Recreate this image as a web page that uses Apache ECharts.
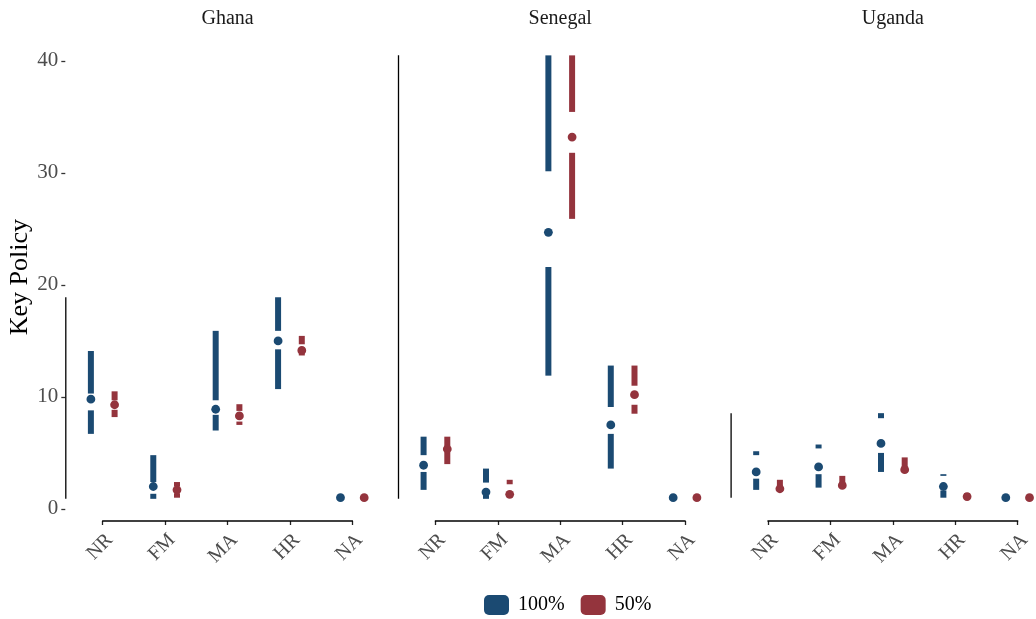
<!DOCTYPE html>
<html><head><meta charset="utf-8">
<script src="https://cdn.jsdelivr.net/npm/echarts@6/dist/echarts.min.js"></script>
<style>html,body{margin:0;padding:0;background:#fff}#c{width:1036px;height:619px}</style>
</head><body><div id="c"></div>
<script>
const countries = ['Ghana', 'Senegal', 'Uganda'];
const categories = ['NR', 'FM', 'MA', 'HR', 'NA'];
const groups = ['100%', '50%'];
const yTicks = [0, 10, 20, 30, 40];
// per category: [min, q1, median, q3, max]
const ghana100 = [[6.7, 8.8, 9.8, 10.3, 14.1], [0.9, 1.35, 2.0, 2.4, 4.8], [7.0, 8.4, 8.9, 9.7, 15.9], [10.7, 14.25, 15.0, 15.9, 18.9], [1, 1, 1, 1, 1]];
const ghana50 = [[8.2, 8.85, 9.3, 9.7, 10.5], [1.0, 1.4, 1.7, 2.0, 2.4], [7.5, 7.8, 8.3, 8.75, 9.35], [13.7, 14.0, 14.15, 14.7, 15.45], [1, 1, 1, 1, 1]];
const senegal100 = [[1.7, 3.3, 3.9, 4.8, 6.45], [0.9, 1.2, 1.5, 2.35, 3.6], [11.9, 21.6, 24.7, 30.15, 40.5], [3.6, 6.7, 7.5, 9.1, 12.8], [1, 1, 1, 1, 1]];
const senegal50 = [[4.0, 5.1, 5.35, 5.6, 6.45], [1.1, 1.2, 1.3, 2.2, 2.6], [25.9, 31.8, 33.2, 35.45, 40.5], [8.5, 9.3, 10.2, 11.0, 12.8], [1, 1, 1, 1, 1]];
const uganda100 = [[1.7, 2.7, 3.3, 4.8, 5.15], [1.9, 3.1, 3.75, 5.4, 5.75], [3.3, 5.0, 5.85, 8.1, 8.55], [1.0, 1.65, 2.0, 2.95, 3.1], [1, 1, 1, 1, 1]];
const uganda50 = [[1.6, 1.7, 1.8, 1.9, 2.6], [1.9, 2.0, 2.1, 2.2, 2.95], [3.3, 3.4, 3.5, 3.7, 4.6], [1.0, 1.05, 1.1, 1.2, 1.4], [1, 1, 1, 1, 1]];

const panelData = [[ghana100, ghana50], [senegal100, senegal50], [uganda100, uganda50]];
const colors = ['#1b4a72', '#94343d'];
const offsets = [-0.19, 0.19];
const FONT = "'Liberation Serif','Times New Roman',serif";

const yMin = -1.08, yMax = 42.48;
const gridTop = 33.2, gridBottomY = 521;
const unit = 62.4;
const gridLefts = [65.3, 398, 730.6];
const xMin = -0.6;

const grids = [], xAxes = [], yAxes = [], series = [], graphics = [];

function boxRender(color, off) {
  return function (params, api) {
    const c = api.value(0) + off;
    const p = [1, 2, 3, 4, 5].map(i => api.coord([c, api.value(i)]));
    const x = p[0][0];
    const ch = [];
    const seg = (a, b) => {
      if (Math.abs(a[1] - b[1]) > 0.3) ch.push({ type: 'line', shape: { x1: x, y1: a[1], x2: x, y2: b[1] }, style: { stroke: color, lineWidth: 6, lineCap: 'butt' } });
    };
    seg(p[0], p[1]);
    seg(p[3], p[4]);
    ch.push({ type: 'circle', shape: { cx: x, cy: p[2][1], r: 4.4 }, style: { fill: color } });
    return { type: 'group', children: ch };
  };
}

countries.forEach((name, gi) => {
  const left = gridLefts[gi];
  const xMax = gi === 2 ? (1036 - left) / unit + xMin : 4.6;
  const width = (xMax - xMin) * unit;
  grids.push({ left: left, top: gridTop, width: width, height: gridBottomY - gridTop });
  xAxes.push({
    type: 'value', gridIndex: gi, min: xMin, max: xMax,
    axisLine: { show: false, onZero: false }, splitLine: { show: false },
    axisTick: { show: true, length: 4, customValues: [0, 1, 2, 3, 4], lineStyle: { color: '#222', width: 1.3 } },
    axisLabel: {
      customValues: [0, 1, 2, 3, 4], rotate: 45, margin: 9, verticalAlign: 'top',
      formatter: v => categories[Math.round(v)] || '',
      fontFamily: FONT, fontSize: 20, color: '#4d4d4d'
    }
  });
  yAxes.push({
    type: 'value', gridIndex: gi, min: yMin, max: yMax,
    show: gi === 0,
    name: gi === 0 ? 'Key Policy' : '', nameLocation: 'middle', nameRotate: 90, nameGap: 32,
    nameTextStyle: { fontFamily: FONT, fontSize: 26, color: '#000' },
    axisLine: { show: false, onZero: false }, splitLine: { show: false },
    axisTick: { show: gi === 0, length: 4, customValues: yTicks, lineStyle: { color: '#333', width: 1.3 } },
    axisLabel: { show: gi === 0, customValues: yTicks, margin: 7, fontFamily: FONT, fontSize: 21, color: '#4d4d4d' }
  });
  // strip label
  graphics.push({
    type: 'text', x: left + (0 - xMin) * unit + 2 * unit, y: 19,
    style: { text: name, textAlign: 'center', textVerticalAlign: 'middle', font: '20px ' + FONT, fill: '#1a1a1a' }
  });
  // box series
  panelData[gi].forEach((arr, si) => {
    series.push({
      type: 'custom', name: groups[si], xAxisIndex: gi, yAxisIndex: gi,
      itemStyle: { color: colors[si] },
      renderItem: boxRender(colors[si], offsets[si]),
      encode: { x: 0, y: [1, 2, 3, 4, 5] },
      data: arr.map((r, ci) => [ci].concat(r)),
      clip: false, silent: true
    });
  });
  // range frame
  const all = panelData[gi][0].concat(panelData[gi][1]).flat();
  const lo = Math.min(...all), hi = Math.max(...all);
  series.push({
    type: 'custom', name: 'frame' + gi, xAxisIndex: gi, yAxisIndex: gi, clip: false, silent: true,
    data: [[lo, hi]],
    renderItem: function (params, api) {
      const a = api.coord([xMin, api.value(0)]);
      const b = api.coord([xMin, api.value(1)]);
      const c = api.coord([0, yMin]);
      const d = api.coord([4, yMin]);
      return {
        type: 'group', children: [
          { type: 'line', shape: { x1: a[0] + 0.5, y1: a[1], x2: b[0] + 0.5, y2: b[1] }, style: { stroke: '#000', lineWidth: 1.3 } },
          { type: 'line', shape: { x1: c[0] - 0.6, y1: c[1], x2: d[0] + 0.6, y2: d[1] }, style: { stroke: '#000', lineWidth: 1.3 } }
        ]
      };
    }
  });
});

const chart = echarts.init(document.getElementById('c'), null, { renderer: 'canvas' });
chart.setOption({
  animation: false,
  backgroundColor: '#fff',
  grid: grids, xAxis: xAxes, yAxis: yAxes, series: series,
  graphic: graphics,
  legend: {
    data: groups, left: 479, top: 590, itemWidth: 25, itemHeight: 20, itemGap: 16,
    icon: 'roundRect', selectedMode: false,
    textStyle: { fontFamily: FONT, fontSize: 20, color: '#000', padding: [0, 0, 0, 4] }
  }
});
</script></body></html>
